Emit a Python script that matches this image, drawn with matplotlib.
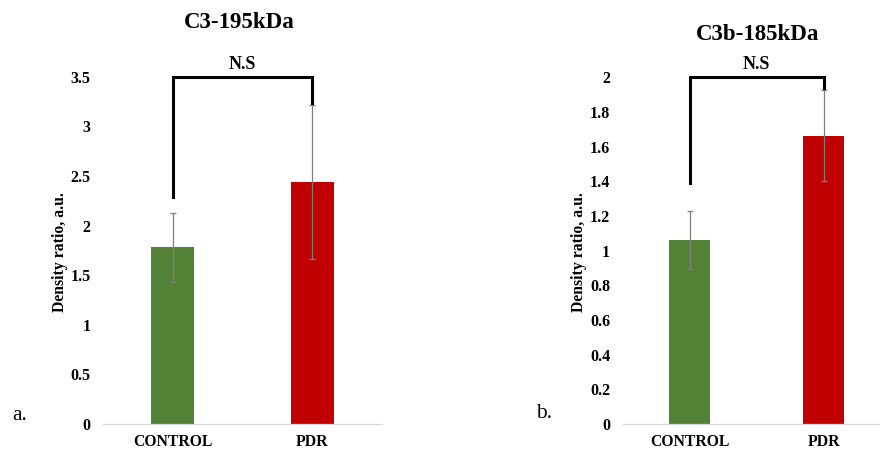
import matplotlib
matplotlib.use("Agg")
import matplotlib.pyplot as plt

# Densitometry summary for C3 fragments
categories = ["CONTROL", "PDR"]

c3_means = [1.78, 2.44]
c3_errors = [0.35, 0.775]
c3_ticks = [0, 0.5, 1, 1.5, 2, 2.5, 3, 3.5]
c3_tick_labels = ["0", "0.5", "1", "1.5", "2", "2.5", "3", "3.5"]
c3_bracket = [2.29, 3.5, 3.23]   # left leg end, top, right leg end

c3b_means = [1.062, 1.662]
c3b_errors = [0.168, 0.262]
c3b_ticks = [0, 0.2, 0.4, 0.6, 0.8, 1.0, 1.2, 1.4, 1.6, 1.8, 2.0]
c3b_tick_labels = ["0", "0.2", "0.4", "0.6", "0.8", "1", "1.2", "1.4", "1.6", "1.8", "2"]
c3b_bracket = [1.393, 2.0, 1.937]

colors = ["#538135", "#C00000"]
serif = ["Liberation Serif", "DejaVu Serif"]

fig = plt.figure(figsize=(8.8, 4.5), dpi=100)


def panel(rect, means, errs, ticks, tick_labels, ymax, bracket, title, title_xy,
          letter, letter_xy, ylabel_x):
    ax = fig.add_axes(rect)
    x = list(range(len(categories)))
    ax.bar(x, means, width=0.31, color=colors, zorder=2)
    ax.errorbar(x, means, yerr=errs, fmt="none", ecolor="#7f7f7f",
                elinewidth=0.9, capsize=2.5, capthick=0.9, zorder=3)
    ax.set_xlim(-0.5, 1.5)
    ax.set_ylim(0, ymax)
    ax.set_yticks(ticks)
    ax.set_yticklabels(tick_labels, fontfamily=serif, fontweight="bold", fontsize=11.5)
    ax.set_xticks(x)
    ax.set_xticklabels(categories, fontfamily=serif, fontweight="bold", fontsize=11.3)
    ax.tick_params(axis="both", length=0)
    ax.tick_params(axis="y", pad=9)
    ax.tick_params(axis="x", pad=7)
    for side in ("left", "right", "top"):
        ax.spines[side].set_visible(False)
    ax.spines["bottom"].set_color("#d9d9d9")
    ax.spines["bottom"].set_linewidth(0.9)
    ax.set_ylabel("Density ratio, a.u.", fontfamily=serif, fontweight="bold",
                  fontsize=11.3, va="center")
    ax.yaxis.set_label_coords(ylabel_x, 0.495)
    # significance bracket
    ax.plot([x[0], x[0], x[1], x[1]], [bracket[0], bracket[1], bracket[1], bracket[2]],
            color="black", lw=2.2, clip_on=False, solid_joinstyle="miter", zorder=4)
    ax.text(0.5 * (x[0] + x[1]), bracket[1] + ymax * 0.012, "N.S", ha="center", va="bottom",
            fontfamily=serif, fontweight="bold", fontsize=13)
    fig.text(title_xy[0], title_xy[1], title, ha="center", va="center",
             fontfamily=serif, fontweight="bold", fontsize=16.5)
    fig.text(letter_xy[0], letter_xy[1], letter, ha="left", va="center",
             fontfamily=serif, fontsize=15.5)
    return ax


panel([0.117, 0.0578, 0.317, 0.7718], c3_means, c3_errors, c3_ticks, c3_tick_labels,
      3.5, c3_bracket, "C3-195kDa", (239 / 880, 1 - 23 / 450),
      "a.", (12 / 880, 1 - 415 / 450), -0.155)
panel([0.7076, 0.0578, 0.3045, 0.7704], c3b_means, c3b_errors, c3b_ticks, c3b_tick_labels,
      2.0, c3b_bracket, "C3b-185kDa", (758 / 880, 1 - 35 / 450),
      "b.", (536 / 880, 1 - 413 / 450), -0.163)

fig.savefig("out.png", dpi=100)
